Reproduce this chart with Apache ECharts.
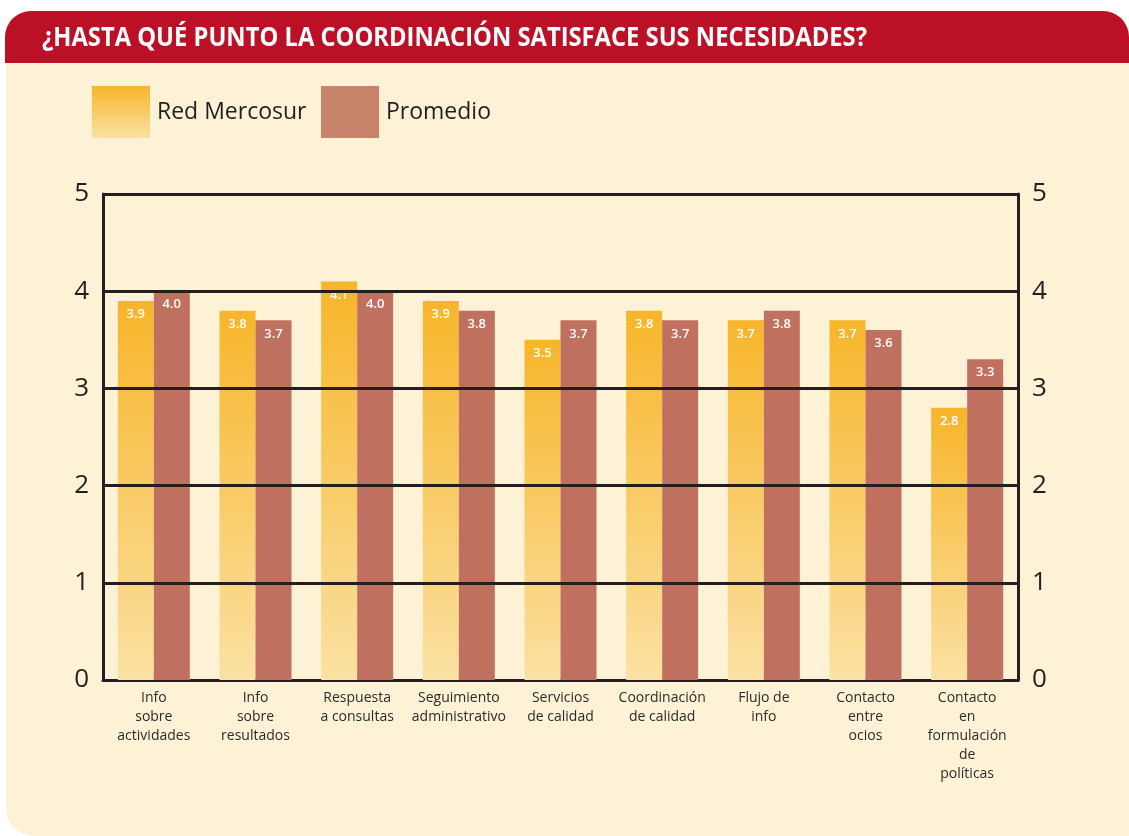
<!DOCTYPE html>
<html>
<head>
<meta charset="utf-8">
<script src="https://cdn.jsdelivr.net/npm/echarts@6/dist/echarts.min.js"></script>
<style>
  html, body { margin: 0; padding: 0; background: #ffffff; }
  #chart { width: 1129px; height: 836px; }
</style>
</head>
<body>
<div id="chart"></div>
<script>
const titleText = "¿HASTA QUÉ PUNTO LA COORDINACIÓN SATISFACE SUS NECESIDADES?";
const categories = [
  "Info\nsobre\nactividades",
  "Info\nsobre\nresultados",
  "Respuesta\na consultas",
  "Seguimiento\nadministrativo",
  "Servicios\nde calidad",
  "Coordinación\nde calidad",
  "Flujo de\ninfo",
  "Contacto\nentre\nocios",
  "Contacto\nen\nformulación\nde\npolíticas"
];
const redMercosur = [3.9, 3.8, 4.1, 3.9, 3.5, 3.8, 3.7, 3.7, 2.8];
const promedio = [4.0, 3.7, 4.0, 3.8, 3.7, 3.7, 3.8, 3.6, 3.3];
const gridLines = [1, 2, 3, 4, 5];

const FONT = "'Open Sans', 'Noto Sans', sans-serif";
const INK = "#231f20";

// squeeze the title to the condensed width of the original
const ctx = document.createElement("canvas").getContext("2d");
ctx.font = "bold 27px 'Open Sans'";
const titleScale = 825 / ctx.measureText(titleText).width;

const orange = new echarts.graphic.LinearGradient(0, 0, 0, 1, [
  { offset: 0, color: "#f7b52a" },
  { offset: 1, color: "#fbe1a2" }
]);

const legendBase = {
  top: 86, padding: 0, itemWidth: 58, itemHeight: 52, icon: "rect",
  selectedMode: false,
  textStyle: { fontFamily: FONT, fontSize: 23, color: INK, padding: [0, 0, 0, 2] }
};

const chart = echarts.init(document.getElementById("chart"), null, { renderer: "canvas" });

chart.setOption({
  animation: false,
  backgroundColor: "#ffffff",
  graphic: [
    {
      type: "rect", z: -10, silent: true,
      shape: { x: 6, y: 60, width: 1123, height: 776, r: [0, 0, 0, 28] },
      style: { fill: "#fdf1d6" }
    },
    {
      type: "rect", z: -9, silent: true,
      shape: { x: 5, y: 11, width: 1124, height: 52, r: [26, 26, 0, 0] },
      style: { fill: "#bc1026" }
    },
    {
      type: "text", z: -8, silent: true,
      x: 42, y: 38, scaleX: titleScale,
      style: {
        text: titleText, fill: "#ffffff",
        font: "bold 27px 'Open Sans'", verticalAlign: "middle"
      }
    }
  ],
  legend: [
    Object.assign({ left: 92, data: ["Red Mercosur"] }, legendBase),
    Object.assign({ left: 321, data: [{ name: "Promedio", itemStyle: { color: "#c8846a" } }] }, legendBase)
  ],
  grid: { left: 103, right: 111, top: 194, bottom: 156 },
  xAxis: {
    type: "category",
    data: categories,
    axisTick: { show: false },
    axisLine: { lineStyle: { color: INK, width: 3 } },
    axisLabel: {
      interval: 0, margin: 9, fontFamily: FONT, fontSize: 14,
      lineHeight: 19, color: "#2b2b2b", verticalAlign: "top"
    }
  },
  yAxis: [
    {
      type: "value", min: 0, max: 5, interval: 1, position: "left",
      axisLine: { show: true, lineStyle: { color: INK, width: 3 } },
      axisTick: { show: false },
      splitLine: { show: false },
      axisLabel: { margin: 14, fontFamily: FONT, fontSize: 26, color: INK }
    },
    {
      type: "value", min: 0, max: 5, interval: 1, position: "right",
      axisLine: { show: true, lineStyle: { color: INK, width: 3 } },
      axisTick: { show: false },
      splitLine: { show: false },
      axisLabel: { margin: 14, fontFamily: FONT, fontSize: 26, color: INK }
    }
  ],
  series: [
    {
      name: "Red Mercosur",
      type: "bar",
      data: redMercosur,
      barWidth: 36,
      barGap: "0%",
      itemStyle: { color: orange },
      label: {
        show: true, position: "insideTop", distance: 7,
        fontFamily: FONT, fontSize: 13, fontWeight: 600, color: "#ffffff",
        formatter: (p) => p.value.toFixed(1)
      }
    },
    {
      name: "Promedio",
      type: "bar",
      data: promedio,
      barWidth: 36,
      barGap: "0%",
      itemStyle: { color: "#c0705f" },
      label: {
        show: true, position: "insideTop", distance: 7,
        fontFamily: FONT, fontSize: 13, fontWeight: 600, color: "#ffffff",
        formatter: (p) => p.value.toFixed(1)
      },
      // horizontal rules sit on top of the bars in the original
      markLine: {
        silent: true,
        symbol: ["none", "none"],
        label: { show: false },
        lineStyle: { color: INK, width: 3, type: "solid" },
        data: gridLines.map((v) => ({ yAxis: v }))
      }
    }
  ]
});
</script>
</body>
</html>
